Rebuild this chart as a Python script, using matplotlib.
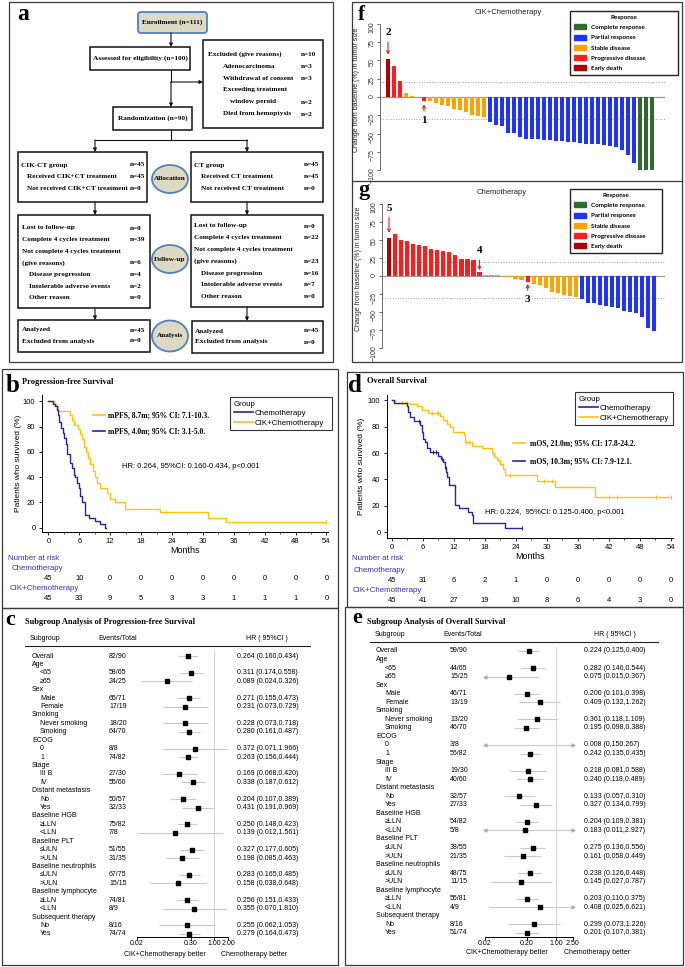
import numpy as np
import matplotlib
matplotlib.use("Agg")
import matplotlib.pyplot as plt
from matplotlib import transforms
from matplotlib.patches import Rectangle, Ellipse, FancyBboxPatch, Patch
from matplotlib.lines import Line2D
from matplotlib.ticker import NullLocator

plt.rcParams['font.family'] = ['Liberation Sans', 'DejaVu Sans']
SERIF = ['Liberation Serif', 'DejaVu Serif']
W, H = 685, 967
NAVY = '#25259c'
GOLD = '#ffc20e'
RISK = '#3434b0'
nan = np.nan

# ---------------- Kaplan-Meier steps (months, % surviving) ----------------
pfs_ct_t = [0, 0.9, 1.3, 1.6, 1.8, 2.1, 2.5, 2.8, 3.0, 3.4, 3.7, 4.1, 4.5, 5.0, 5.2,
            5.5, 5.9, 6.1, 6.6, 7.1, 7.9, 9.0, 10.0, 11.0]
pfs_ct_s = [100, 98, 96, 93, 89, 84, 79, 75, 71, 66, 58, 51, 47, 42, 40,
            35, 31, 25, 20, 10, 7.5, 5, 2.5, 0]
pfs_ct_end = 11.2
pfs_ct_cens = []

pfs_cik_t = [0, 1.0, 1.5, 1.9, 4.1, 4.5, 5.0, 5.8, 6.1, 6.5, 6.9, 7.3, 7.7, 8.1,
             8.6, 9.0, 9.5, 10.0, 11.4, 11.9, 12.9, 14.8, 21.6, 31.0, 34.5]
pfs_cik_s = [100, 98, 96, 92, 89, 85, 81, 78, 74, 70, 64, 60, 55, 50,
             45, 40, 35, 31, 27, 23, 20, 15, 12.5, 7.5, 4.5]
pfs_cik_end = 54
pfs_cik_cens = [22.9, 54]

os_ct_t = [0, 0.5, 2.9, 3.2, 3.6, 4.3, 5.5, 5.8, 6.1, 6.4, 6.9, 7.4, 9.0, 9.5, 10.0,
           10.3, 10.5, 10.7, 11.0, 12.2, 13.1, 14.8, 15.5, 15.8, 22.0]
os_ct_s = [100, 97.8, 95.5, 91, 87, 84.5, 81, 76, 71, 68, 64, 61, 58, 55.5, 53.5,
           49.5, 45.5, 42, 35.5, 20.5, 18, 15.5, 13, 6.6, 3.3]
os_ct_end = 25.1
os_ct_cens = [5.2, 7.9, 8.5, 9.7, 10.4, 25.1]

os_cik_t = [0, 0.6, 3.6, 4.8, 5.8, 7.1, 9.3, 10.0, 10.6, 11.3, 11.9, 13.9, 14.2, 15.5,
            17.4, 19.3, 19.7, 20.3, 20.9, 21.6, 21.9, 28.0, 31.6, 39.3]
os_cik_s = [100, 98, 97, 95.5, 93, 90, 88, 85, 82, 79.5, 76, 73.5, 68, 65.5,
            63.5, 60, 57, 54.5, 52, 48, 43, 38.5, 34, 27]
os_cik_end = 54.1
os_cik_cens = [2.0, 2.8, 7.7, 8.7, 9.0, 14.4, 14.9, 19.6, 20.6, 22.9, 29.5, 31.0,
               42.0, 43.5, 51.2, 54.1]

risk_months = [0, 6, 12, 18, 24, 30, 36, 42, 48, 54]
pfs_risk_ct = [45, 10, 0, 0, 0, 0, 0, 0, 0, 0]
pfs_risk_cik = [45, 33, 9, 5, 3, 3, 1, 1, 1, 0]
os_risk_ct = [45, 31, 6, 2, 1, 0, 0, 0, 0, 0]
os_risk_cik = [45, 41, 27, 19, 10, 8, 6, 4, 3, 0]

# ---------------- subgroup (forest) tables ----------------
sub_labels = ['Overall', 'Age', '<65', '≥65', 'Sex', 'Male', 'Female', 'Smoking',
              'Never smoking', 'Smoking', 'ECOG', '0', '1', 'Stage', 'III B', 'IV',
              'Distant metastasis', 'No', 'Yes', 'Baseline HGB', '≥LLN', '<LLN',
              'Baseline PLT', '≤ULN', '>ULN', 'Baseline neutrophils', '≤ULN', '>ULN',
              'Baseline lymphocyte', '≥LLN', '<LLN', 'Subsequent therapy', 'No', 'Yes']
sub_level = [0, 0, 1, 1, 0, 1, 1, 0, 1, 1, 0, 1, 1, 0, 1, 1, 0, 1, 1, 0, 1, 1,
             0, 1, 1, 0, 1, 1, 0, 1, 1, 0, 1, 1]

pfs_events = ['82/90', '', '58/65', '24/25', '', '65/71', '17/19', '', '18/20', '64/70',
              '', '8/8', '74/82', '', '27/30', '55/60', '', '50/57', '32/33', '',
              '75/82', '7/8', '', '51/55', '31/35', '', '67/75', '15/15', '', '74/81',
              '8/9', '', '8/16', '74/74']
pfs_hr = [0.264, nan, 0.311, 0.089, nan, 0.271, 0.231, nan, 0.228, 0.280, nan, 0.372,
          0.263, nan, 0.169, 0.338, nan, 0.204, 0.431, nan, 0.250, 0.139, nan, 0.327,
          0.198, nan, 0.283, 0.158, nan, 0.256, 0.355, nan, 0.255, 0.279]
pfs_lo = [0.160, nan, 0.174, 0.024, nan, 0.155, 0.073, nan, 0.073, 0.161, nan, 0.071,
          0.156, nan, 0.068, 0.187, nan, 0.107, 0.191, nan, 0.148, 0.012, nan, 0.177,
          0.085, nan, 0.165, 0.038, nan, 0.151, 0.070, nan, 0.062, 0.164]
pfs_hi = [0.434, nan, 0.558, 0.326, nan, 0.473, 0.729, nan, 0.718, 0.487, nan, 1.966,
          0.444, nan, 0.420, 0.612, nan, 0.389, 0.969, nan, 0.423, 1.561, nan, 0.605,
          0.463, nan, 0.485, 0.648, nan, 0.433, 1.810, nan, 1.053, 0.473]

os_events = ['59/90', '', '44/65', '15/25', '', '46/71', '13/19', '', '13/20', '46/70',
             '', '3/8', '56/82', '', '19/30', '40/60', '', '32/57', '27/33', '',
             '54/82', '5/8', '', '38/55', '21/35', '', '48/75', '11/15', '', '55/81',
             '4/9', '', '8/16', '51/74']
os_hr = [0.224, nan, 0.282, 0.075, nan, 0.200, 0.409, nan, 0.361, 0.195, nan, 0.008,
         0.242, nan, 0.218, 0.240, nan, 0.133, 0.327, nan, 0.204, 0.183, nan, 0.275,
         0.161, nan, 0.238, 0.145, nan, 0.203, 0.408, nan, 0.299, 0.201]
os_lo = [0.125, nan, 0.146, 0.015, nan, 0.101, 0.132, nan, 0.118, 0.098, nan, 0.0,
         0.135, nan, 0.081, 0.118, nan, 0.057, 0.134, nan, 0.109, 0.011, nan, 0.136,
         0.058, nan, 0.126, 0.027, nan, 0.110, 0.025, nan, 0.073, 0.107]
os_hi = [0.400, nan, 0.544, 0.367, nan, 0.398, 1.262, nan, 1.109, 0.388, nan, 150.267,
         0.435, nan, 0.588, 0.489, nan, 0.310, 0.799, nan, 0.381, 2.927, nan, 0.556,
         0.449, nan, 0.448, 0.787, nan, 0.375, 6.621, nan, 1.226, 0.381]

# ---------------- waterfall (change in tumour size, %) ----------------
f_vals = [52, 43, 22, 6, 2, 0, -6, -5, -8, -11, -12, -16, -18, -20, -25, -26, -27,
          -34, -39, -40, -49, -49, -55, -57, -58, -58, -59, -59, -60, -60, -61, -62,
          -63, -64, -64, -65, -66, -67, -68, -73, -80, -91, -100, -100, -100]
f_resp = ['ED', 'PD', 'PD', 'SD', 'SD', 'SD', 'PD'] + ['SD'] * 10 + ['PR'] * 25 + ['CR'] * 3
g_vals = [53, 58, 50, 48, 44, 43, 41, 38, 36, 35, 33, 29, 24, 24, 22, 5, 2, 2, 1.5,
          -1, -2, -4, -5, -8, -11, -13, -16, -22, -24, -26, -28, -29,
          -32, -37, -38, -40, -42, -43, -45, -48, -50, -52, -57, -72, -76]
g_resp = ['ED'] + ['PD'] * 15 + ['SD'] * 7 + ['PD'] + ['SD'] * 8 + ['PR'] * 13
resp_keys = ['CR', 'PR', 'SD', 'PD', 'ED']
resp_names = ['Complete response', 'Partial response', 'Stable disease',
              'Progressive disease', 'Early death']
resp_colors = {'CR': '#2f6b2f', 'PR': '#1f33ff', 'SD': '#ffa200', 'PD': '#ff1c1c',
               'ED': '#b00000'}

# ---------------- CONSORT flow chart text ----------------
excluded = [('Excluded (give reasons)', 'n=10', 0), ('Adenocarcinoma', 'n=3', 1),
            ('Withdrawal of consent', 'n=3', 1), ('Exceeding treatment', '', 1),
            ('window peroid', 'n=2', 2), ('Died from hemoptysis', 'n=2', 1)]
cik_alloc = [('CIK-CT group', 'n=45', 0), ('Received CIK+CT treatment', 'n=45', 1),
             ('Not received CIK+CT treatment', 'n=0', 1)]
ct_alloc = [('CT group', 'n=45', 0), ('Received CT treatment', 'n=45', 1),
            ('Not received CT treatment', 'n=0', 1)]
cik_follow = [('Lost to follow-up', 'n=0', 0), ('Complete 4 cycles treatment', 'n=39', 0),
              ('Not complete 4 cycles treatment', '', 0), ('(give reasons)', 'n=6', 0),
              ('Disease progression', 'n=4', 1), ('Intolerable adverse events', 'n=2', 1),
              ('Other reason', 'n=0', 1)]
ct_follow = [('Lost to follow-up', 'n=0', 0), ('Complete 4 cycles treatment', 'n=22', 0),
             ('Not complete 4 cycles treatment', '', 0), ('(give reasons)', 'n=23', 0),
             ('Disease progression', 'n=16', 1), ('Intolerable adverse events', 'n=7', 1),
             ('Other reason', 'n=0', 1)]
cik_anal = [('Analyzed', 'n=45', 0), ('Excluded from analysis', 'n=0', 0)]
ct_anal = [('Analyzed', 'n=45', 0), ('Excluded from analysis', 'n=0', 0)]


def axrect(x0, y0, x1, y1):
    return [x0 / W, 1 - y1 / H, (x1 - x0) / W, (y1 - y0) / H]


fig = plt.figure(figsize=(W / 100, H / 100), dpi=100)
bg = fig.add_axes([0, 0, 1, 1])
bg.set_xlim(0, W)
bg.set_ylim(H, 0)
bg.axis('off')

# panel frames
for x0, y0, x1, y1 in [(9, 2, 333, 362), (2, 369, 338, 608), (2, 608, 338, 965),
                       (352, 2, 682, 362), (347, 372, 683, 607), (345, 607, 683, 965)]:
    bg.add_patch(Rectangle((x0, y0), x1 - x0, y1 - y0, fill=False, ec='#3a3a3a', lw=0.9))
bg.plot([352, 682], [181, 181], color='#3a3a3a', lw=0.9)

for lab, x, y, fs in [('a', 17, 20, 17), ('b', 6, 392, 18), ('c', 5, 625, 16),
                      ('d', 348, 392, 18), ('e', 352, 623, 16), ('f', 358, 20, 15),
                      ('g', 358, 195, 16)]:
    bg.text(x, y, lab, fontsize=fs, fontweight='bold', family=SERIF, va='baseline')

# ---------------- panel a: flow chart ----------------
FC = '#ddd9c3'
EC = '#4f81bd'


def ftxt(x, y, s, ha='left'):
    bg.text(x, y, s, ha=ha, va='center', fontsize=5.2, fontweight='bold', family=SERIF)


def fbox(x0, y0, x1, y1):
    bg.add_patch(Rectangle((x0, y0), x1 - x0, y1 - y0, fill=False, ec='#111111', lw=1.1))


def arrow(x0, y0, x1, y1):
    bg.annotate('', xy=(x1, y1), xytext=(x0, y0),
                arrowprops=dict(arrowstyle='-|>', color='#111111', lw=0.8,
                                mutation_scale=5, shrinkA=0, shrinkB=0))


def block(lines, x, y, step, nx, indent):
    for i, (txt, n, lev) in enumerate(lines):
        ftxt(x + indent[lev], y + i * step, txt)
        if n:
            ftxt(nx, y + i * step, n)


bg.add_patch(FancyBboxPatch((138, 12), 69, 21, boxstyle='round,pad=0,rounding_size=3',
                            fc=FC, ec=EC, lw=1.3))
ftxt(172.5, 22.5, 'Enrollment (n=111)', ha='center')
fbox(90, 47, 190, 70)
ftxt(140, 58.5, 'Assessed for eligibility (n=100)', ha='center')
fbox(203, 40, 323, 128)
block(excluded, 208, 54, 12, 301, {0: 0, 1: 15, 2: 22})
fbox(113, 107, 192, 130)
ftxt(152.5, 118.5, 'Randomization (n=90)', ha='center')

arrow(171, 33, 171, 47)
bg.plot([171, 171], [70, 82], color='#111111', lw=0.8)
arrow(171, 82, 171, 107)
arrow(171, 82, 203, 82)
bg.plot([171, 171], [130, 140], color='#111111', lw=0.8)
bg.plot([95, 247], [140, 140], color='#111111', lw=0.8)
for x in (95, 247):
    arrow(x, 140, x, 152)
    arrow(x, 202, x, 215)
arrow(95, 308, 95, 320)
arrow(247, 307, 247, 321)

fbox(18, 152, 147, 202)
block(cik_alloc, 21, 165, 11.5, 130, {0: 0, 1: 6})
fbox(191, 152, 323, 202)
block(ct_alloc, 194, 165, 11.5, 304, {0: 0, 1: 7})
fbox(18, 215, 150, 308)
block(cik_follow, 22, 228, 11.6, 130, {0: 0, 1: 7})
fbox(191, 215, 323, 307)
block(ct_follow, 194, 226, 11.8, 304, {0: 0, 1: 7})
fbox(18, 320, 150, 352)
block(cik_anal, 22, 330, 11, 130, {0: 0})
fbox(192, 321, 323, 353)
block(ct_anal, 195, 331, 11, 304, {0: 0})

for (cy, hgt, txt) in [(179, 28, 'Allocation'), (259, 28, 'Follow-up'), (336, 31, 'Analysis')]:
    bg.add_patch(Ellipse((170, cy), 36, hgt, fc=FC, ec=EC, lw=1.3))
    ftxt(170, cy, txt, ha='center')


# ---------------- panels b / d: Kaplan-Meier ----------------
def km_curve(ax, t, s, t_end, cens, color):
    ax.step(list(t) + [t_end], list(s) + [s[-1]], where='post', color=color, lw=1.0)
    if cens:
        t_arr = np.asarray(t)
        s_arr = np.asarray(s)
        cy = s_arr[np.searchsorted(t_arr, cens, side='right') - 1]
        ax.plot(cens, cy, ls='none', marker='|', ms=3.5, mew=0.7, color=color)


def km_axes(rect, xlim, ylim, ylab_x):
    ax = fig.add_axes(axrect(*rect))
    ax.set_facecolor('none')
    ax.set_xlim(*xlim)
    ax.set_ylim(*ylim)
    for side in ('top', 'right'):
        ax.spines[side].set_visible(False)
    for side in ('left', 'bottom'):
        ax.spines[side].set_linewidth(0.7)
    ax.set_xticks(risk_months)
    ax.set_xticks(np.arange(3, 54, 6), minor=True)
    ax.set_yticks([0, 20, 40, 60, 80, 100])
    ax.tick_params(labelsize=5.5, length=2, width=0.6, pad=2.5)
    ax.tick_params(which='minor', length=1.5, width=0.5)
    ax.set_xlabel('Months', fontsize=6.5, labelpad=1)
    ax.set_ylabel('Patients who survived (%)', fontsize=6)
    ax.yaxis.set_label_coords(ylab_x, 0.5)
    return ax


def km_legend(ax, x0, y0, x1):
    handles = [Line2D([], [], color=NAVY, lw=1.2, label='Chemotherapy'),
               Line2D([], [], color=GOLD, lw=1.2, label='CIK+Chemotherapy')]
    leg = ax.legend(handles=handles, title='Group', loc='upper left',
                    bbox_to_anchor=(x0 / W, 1 - y0 / H, (x1 - x0) / W, 0.001),
                    bbox_transform=fig.transFigure, mode='expand', fontsize=5.7,
                    title_fontsize=5.7, alignment='left', fancybox=False,
                    edgecolor='#333333', framealpha=1, borderpad=0.45,
                    labelspacing=0.25, handlelength=2.4, handletextpad=0.3,
                    borderaxespad=0)
    leg.get_frame().set_linewidth(0.8)


def risk_table(ax, ys, ct, cik):
    tr = transforms.blended_transform_factory(ax.transData, bg.transData)
    for m, a, b in zip(risk_months, ct, cik):
        ax.text(m, ys[0], str(a), transform=tr, ha='center', va='center', fontsize=5.5)
        ax.text(m, ys[1], str(b), transform=tr, ha='center', va='center', fontsize=5.5)


# b
ax_b = km_axes((41.7, 395, 328, 531.7), (-1.3, 54.3), (-3.3, 105), -0.069)
km_curve(ax_b, pfs_cik_t, pfs_cik_s, pfs_cik_end, pfs_cik_cens, GOLD)
km_curve(ax_b, pfs_ct_t, pfs_ct_s, pfs_ct_end, pfs_ct_cens, NAVY)
km_legend(ax_b, 230, 398, 332)
risk_table(ax_b, (578, 598), pfs_risk_ct, pfs_risk_cik)
bg.text(22, 382, 'Progression-free Survival', fontsize=6, fontweight='bold', family=SERIF,
        va='center')
bg.plot([93, 105], [415, 415], color=GOLD, lw=1.2)
bg.plot([93, 105], [431, 431], color=NAVY, lw=1.2)
bg.text(108, 415, 'mPFS, 8.7m; 95% CI: 7.1-10.3.', fontsize=5.5, fontweight='bold',
        family=SERIF, va='center')
bg.text(108, 431, 'mPFS, 4.0m; 95% CI: 3.1-5.0.', fontsize=5.5, fontweight='bold',
        family=SERIF, va='center')
bg.text(122, 466, 'HR: 0.264, 95%CI: 0.160-0.434, p<0.001', fontsize=5.5, va='center')
bg.text(8, 559, 'Number at risk', color=RISK, fontsize=5.7, va='center')
bg.text(12, 569, 'Chemotherapy', color=RISK, fontsize=5.7, va='center')
bg.text(10, 588, 'CIK+Chemotherapy', color=RISK, fontsize=5.7, va='center')

# d
ax_d = km_axes((386.7, 395, 673.3, 537.7), (-0.97, 54.45), (-4.2, 104), -0.076)
km_curve(ax_d, os_cik_t, os_cik_s, os_cik_end, os_cik_cens, GOLD)
km_curve(ax_d, os_ct_t, os_ct_s, os_ct_end, os_ct_cens, NAVY)
km_legend(ax_d, 575, 393, 673)
risk_table(ax_d, (580, 600), os_risk_ct, os_risk_cik)
bg.text(367, 381, 'Overall Survival', fontsize=6, fontweight='bold', family=SERIF,
        va='center')
bg.plot([513, 525], [443, 443], color=GOLD, lw=1.2)
bg.plot([513, 525], [461, 461], color=NAVY, lw=1.2)
bg.text(530, 443, 'mOS, 21.0m; 95% CI: 17.8-24.2.', fontsize=5.5, fontweight='bold',
        family=SERIF, va='center')
bg.text(530, 461, 'mOS, 10.3m; 95% CI: 7.9-12.1.', fontsize=5.5, fontweight='bold',
        family=SERIF, va='center')
bg.text(485, 512, 'HR: 0.224,  95%CI: 0.125-0.400, p<0.001', fontsize=5.5, va='center')
bg.text(352, 559, 'Number at risk', color=RISK, fontsize=5.7, va='center')
bg.text(354, 570, 'Chemotherapy', color=RISK, fontsize=5.7, va='center')
bg.text(353, 590, 'CIK+Chemotherapy', color=RISK, fontsize=5.7, va='center')


# ---------------- panels c / e: forest plots ----------------
def fmt(v):
    return '0' if v == 0 else f'{v:.3f}'


def forest(x0, x1, top, row0, pitch, xlim, ticks, ticklabels, events, hr, lo, hi,
           col_x, arrows):
    bottom = 936.5
    ax = fig.add_axes(axrect(x0, top, x1, bottom))
    ax.set_facecolor('none')
    ax.set_xscale('log')
    ax.set_xlim(*xlim)
    ax.set_ylim((bottom - row0) / pitch, (top - row0) / pitch)
    hr = np.asarray(hr, float)
    lo = np.asarray(lo, float)
    hi = np.asarray(hi, float)
    rows = np.arange(len(sub_labels))
    ok = ~np.isnan(hr)
    ax.axvline(1, color='#d2d2d2', lw=0.7)
    ax.hlines(rows[ok], np.clip(lo[ok], *xlim), np.clip(hi[ok], *xlim),
              color='#c8c8c8', lw=0.8)
    if arrows:
        left = ok & (np.nan_to_num(lo, nan=1) < xlim[0])
        right = ok & (np.nan_to_num(hi, nan=1) > xlim[1])
        ax.plot(np.full(left.sum(), xlim[0]), rows[left], ls='none', marker='<',
                ms=2.2, color='#b0b0b0', clip_on=False)
        ax.plot(np.full(right.sum(), xlim[1]), rows[right], ls='none', marker='>',
                ms=2.2, color='#b0b0b0', clip_on=False)
    ax.plot(hr[ok], rows[ok], ls='none', marker='s', ms=2.3, color='black')
    for side in ('top', 'right', 'left'):
        ax.spines[side].set_visible(False)
    ax.spines['bottom'].set_linewidth(0.7)
    ax.set_yticks([])
    ax.set_xticks(ticks)
    ax.set_xticklabels(ticklabels)
    ax.xaxis.set_minor_locator(NullLocator())
    ax.tick_params(axis='x', labelsize=5, length=2, width=0.6, pad=0.8)

    tr = transforms.blended_transform_factory(bg.transData, ax.transData)
    lab0, lab1, ev_x, hr_x = col_x
    for i, (lab, lev) in enumerate(zip(sub_labels, sub_level)):
        ax.text(lab1 if lev else lab0, i, lab, transform=tr, fontsize=5, va='center')
        if ok[i]:
            ax.text(ev_x, i, events[i], transform=tr, fontsize=5, va='center')
            ax.text(hr_x, i, f'{hr[i]:.3f} ({fmt(lo[i])},{fmt(hi[i])})', transform=tr,
                    fontsize=5, va='center')
    return ax


forest(137, 228, 649.7, 656, 8.42, (0.02, 2.0), [0.02, 0.30, 1.00, 2.00],
       ['0.02', '0.30', '1.00', '2.00'], pfs_events, pfs_hr, pfs_lo, pfs_hi,
       (32, 40, 109, 237), False)
bg.text(25, 622, 'Subgroup Analysis of Progression-free Survival', fontsize=6,
        fontweight='bold', family=SERIF, va='center')
for x, s in [(30, 'Subgroup'), (98, 'Events/Total'), (246, 'HR ( 95%CI )')]:
    bg.text(x, 639, s, fontsize=5, va='center')
bg.plot([25, 310], [646, 646], color='#222222', lw=0.8)
bg.text(165, 954, 'CIK+Chemotherapy better', fontsize=5, ha='center', va='center')
bg.text(254, 954, 'Chemotherapy better', fontsize=5, ha='center', va='center')

forest(485, 572.6, 646.5, 651, 8.545, (0.02, 2.5), [0.02, 0.20, 1.00, 2.50],
       ['0.02', '0.20', '1.00', '2.50'], os_events, os_hr, os_lo, os_hi,
       (376, 385, 450, 584), True)
bg.text(367, 622, 'Subgroup Analysis of Overall Survival', fontsize=6,
        fontweight='bold', family=SERIF, va='center')
for x, s in [(375, 'Subgroup'), (443, 'Events/Total'), (594, 'HR ( 95%CI )')]:
    bg.text(x, 635, s, fontsize=5, va='center')
bg.plot([370, 658], [642, 642], color='#222222', lw=0.8)
bg.text(507, 953, 'CIK+Chemotherapy better', fontsize=5, ha='center', va='center')
bg.text(597, 953, 'Chemotherapy better', fontsize=5, ha='center', va='center')


# ---------------- panels f / g: waterfall ----------------
def waterfall(rect, xlim, vals, resp, leg_box, marks):
    ax = fig.add_axes(axrect(*rect))
    ax.set_facecolor('none')
    idx = np.arange(len(vals))
    ax.axhline(0, color='#9a9a9a', lw=0.9, zorder=1)
    ax.axhline(20, color='#a0a0a0', lw=0.7, ls=':', zorder=1)
    ax.axhline(-30, color='#a0a0a0', lw=0.7, ls=':', zorder=1)
    ax.bar(idx, vals, width=0.72, color=[resp_colors[r] for r in resp], zorder=2)
    ax.set_xlim(*xlim)
    ax.set_ylim(-105, 105)
    for side in ('top', 'right', 'bottom'):
        ax.spines[side].set_visible(False)
    ax.spines['left'].set_bounds(-100, 100)
    ax.spines['left'].set_linewidth(0.6)
    ax.spines['left'].set_color('#555555')
    ax.set_xticks([])
    ax.set_yticks([100, 75, 50, 25, 0, -25, -50, -75, -100])
    ax.tick_params(axis='y', labelsize=5, labelrotation=90, length=2, width=0.5,
                   pad=1, colors='#333333')
    ax.set_ylabel('Change from baseline (%) in tumor size', fontsize=5, color='#222222')
    ax.yaxis.set_label_coords(-0.07, 0.55)
    for num, i, ty, tip in marks:
        ax.annotate(num, xy=(i, tip), xytext=(i, ty), ha='center', va='center',
                    fontsize=8, fontweight='bold', family=SERIF,
                    arrowprops=dict(arrowstyle='->', color='#e02020', lw=0.8,
                                    shrinkA=1.5, shrinkB=0, mutation_scale=5))
    handles = [Patch(color=resp_colors[k], label=n) for k, n in zip(resp_keys, resp_names)]
    x0, y0, x1 = leg_box
    leg = ax.legend(handles=handles, title='Response', loc='upper left',
                    bbox_to_anchor=(x0 / W, 1 - y0 / H, (x1 - x0) / W, 0.001),
                    bbox_transform=fig.transFigure, mode='expand',
                    prop=dict(family='Lato', weight='bold', size=4.5),
                    fancybox=False, edgecolor='#222222', framealpha=1,
                    borderpad=0.6, labelspacing=0.75, handlelength=2.0,
                    handleheight=0.8, handletextpad=0.7, borderaxespad=0)
    leg.get_title().set_fontproperties(dict(family='Lato', weight='bold', size=4.5))
    leg.get_frame().set_linewidth(1.0)
    return ax


waterfall((380, 20.3, 665, 173.7), (-1.33, 46.17), f_vals, f_resp, (570, 12, 678),
          [('2', 0, 88, 58), ('1', 6, -32, -10)])
bg.text(508, 13, 'CIK+Chemotherapy', fontsize=5.5, ha='center', va='center', color='#222222')
waterfall((382, 200.4, 665, 351.6), (-1.16, 45.77), g_vals, g_resp, (570, 190, 662),
          [('5', 0, 94, 60), ('4', 15, 35, 8), ('3', 23, -33, -11)])
bg.text(502, 192, 'Chemotherapy', fontsize=5.5, ha='center', va='center', color='#222222')

fig.savefig('out.png', dpi=100)
